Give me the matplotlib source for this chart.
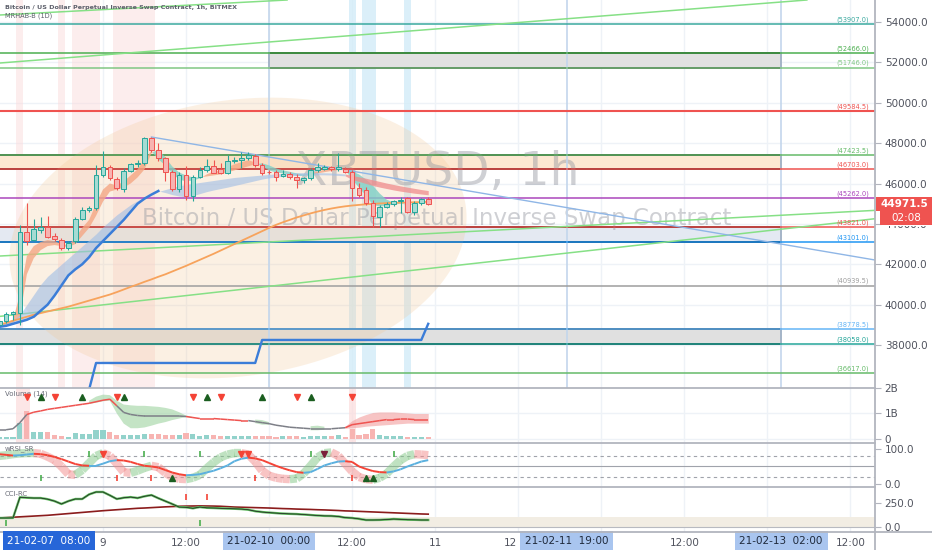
import matplotlib
matplotlib.use("Agg")
import matplotlib.pyplot as plt
import matplotlib.dates as mdates
import matplotlib.transforms as mtrans
from matplotlib.patches import Rectangle
from matplotlib.collections import LineCollection
from matplotlib.lines import Line2D
import numpy as np
import pandas as pd

# ---------------- data ----------------
times = pd.date_range("2021-02-08 09:00", periods=63, freq="h")

opens = [39000, 39165, 39545, 39600, 43620, 43210, 43700, 43870, 43410, 43210,
         42800, 43130, 44230, 44690, 44780, 46430, 46840, 46210, 45720, 46640,
         46970, 47000, 48240, 47660, 47250, 46590, 45720, 46430, 45390, 46340,
         46670, 46870, 46710, 46540, 47090, 47140, 47250, 47370, 46920, 46590,
         46590, 46390, 46460, 46340, 46150, 46260, 46670, 46740, 46810, 46710,
         46710, 46590, 45770, 45680, 45020, 44360, 44860, 44990, 45110, 45270,
         44610, 45020, 45220]
closes = [39165, 39545, 39610, 43620, 43130, 43740, 43870, 43370, 43240, 42800,
          43040, 44230, 44690, 44810, 46430, 46840, 46260, 45770, 46640, 46970,
          47040, 48240, 47660, 47250, 46590, 45720, 46430, 45390, 46340, 46670,
          46870, 46540, 46540, 47090, 47170, 47250, 47420, 46920, 46540, 46560,
          46340, 46480, 46340, 46180, 46260, 46670, 46810, 46810, 46710, 46810,
          46590, 45770, 45440, 45020, 44400, 44860, 44990, 45110, 45190, 44610,
          45020, 45220, 44971.5]
highs = [39330, 39610, 39660, 43950, 45020, 44230, 44330, 44400, 43540, 43290,
         43130, 44330, 44860, 44890, 46920, 47630, 46920, 46340, 46760, 47040,
         47170, 48290, 48320, 47990, 47330, 46670, 46590, 46870, 46430, 46840,
         47200, 47170, 47000, 47420, 47330, 47580, 47580, 47470, 47000, 46670,
         46670, 46670, 46590, 46460, 46340, 46760, 47000, 46920, 46870, 47500,
         46810, 46670, 46010, 45850, 45160, 44940, 45060, 45190, 45350, 45350,
         45110, 45300, 45350]
lows = [38920, 39080, 39250, 39000, 42960, 43130, 43540, 43290, 43130, 42710,
        42710, 43040, 44170, 44610, 44690, 46340, 46180, 45680, 45600, 46590,
        46840, 46920, 47580, 47090, 46100, 45650, 45600, 45190, 45110, 46260,
        46590, 46510, 46480, 46480, 47000, 46760, 47140, 46840, 46430, 46480,
        46100, 46340, 46210, 45770, 46010, 46180, 46590, 46670, 46640, 46640,
        46510, 45110, 45350, 44940, 43870, 43870, 44780, 44890, 44530, 44530,
        44450, 44940, 44940]

# EMA ribbon (fast / slow)
ema_fast = [39000, 39100, 39250, 40500, 42400, 42900, 43100, 43200, 43150, 43000,
            42950, 43300, 43800, 44200, 45000, 45700, 46000, 45900, 46100, 46400,
            46700, 47200, 47600, 47200, 46900, 46500, 46200, 46100, 46150, 46250,
            46450, 46600, 46650, 46800, 46950, 47050, 47150, 47050, 46850, 46650,
            46550, 46500, 46450, 46380, 46380, 46480, 46600, 46680, 46700, 46720,
            46680, 46200, 45800, 45400, 44950, 44850, 44900, 44950, 45000, 44950,
            44950, 45020, 45000]
ema_slow = [38950, 39000, 39100, 39400, 41500, 42300, 42700, 42900, 42950, 42900,
            42850, 43000, 43400, 43800, 44400, 45100, 45600, 45700, 45800, 46000,
            46300, 46700, 47500, 47700, 47300, 46850, 46550, 46400, 46300, 46300,
            46350, 46400, 46450, 46550, 46650, 46750, 46850, 46950, 47000, 46900,
            46750, 46650, 46580, 46500, 46450, 46450, 46500, 46560, 46620, 46660,
            46680, 46600, 46450, 46200, 45900, 45500, 45200, 45050, 45020, 45000,
            44980, 44990, 45000]

# moving-average cloud (blue, then red once price breaks down)
cloud_hi = [39000, 39100, 39250, 39500, 40000, 40500, 41000, 41400, 41700, 42000,
            42300, 42600, 42900, 43200, 43500, 43850, 44150, 44450, 44700, 44950,
            45150, 45300, 45450, 45600, 45700, 45800, 45900, 45950, 46000, 46050,
            46100, 46150, 46200, 46250, 46300, 46330, 46360, 46390, 46420, 46450,
            46480, 46500, 46520, 46530, 46540, 46540, 46540, 46530, 46520, 46500,
            46470, 46400, 46330, 46260, 46180, 46100, 46020, 45950, 45880, 45820,
            45760, 45700, 45650]
cloud_lo = [38900, 38950, 39050, 39150, 39250, 39400, 39700, 40000, 40450, 40950,
            41450, 41750, 42000, 42350, 42800, 43150, 43500, 43850, 44200, 44600,
            45000, 45250, 45450, 45630, 45550, 45450, 45380, 45340, 45400, 45500,
            45600, 45680, 45750, 45820, 45900, 45980, 46060, 46140, 46220, 46280,
            46320, 46360, 46380, 46400, 46410, 46420, 46430, 46430, 46420, 46400,
            46380, 46200, 46100, 46000, 45900, 45820, 45750, 45680, 45620, 45570,
            45520, 45480, 45440]
sma_blue = [38900, 38950, 39050, 39150, 39250, 39400, 39700, 40000, 40450, 40950,
            41450, 41750, 42000, 42350, 42800, 43150, 43500, 43850, 44200, 44600,
            45000, 45250, 45450, 45630]
ema_orange = [39000, 39100, 39200, 39300, 39400, 39500, 39580, 39660, 39740, 39820,
              39900, 40000, 40100, 40200, 40300, 40400, 40500, 40620, 40750, 40880,
              41000, 41130, 41250, 41380, 41500, 41640, 41780, 41920, 42070, 42220,
              42370, 42520, 42680, 42840, 43000, 43160, 43320, 43480, 43640, 43800,
              43950, 44080, 44200, 44320, 44420, 44520, 44610, 44690, 44760, 44820,
              44870, 44910, 44940, 44970, 44990, 45010, 45030, 45040, 45050, 45060,
              45070, 45080, 45090]

# daily step line
step_times = ["2021-02-08 22:00", "2021-02-08 23:00", "2021-02-09 22:00",
              "2021-02-09 23:00", "2021-02-10 22:00", "2021-02-10 23:00"]
step_vals = [35800, 37110, 37110, 38250, 38250, 39050]

# horizontal levels
levels = [53907.0, 52466.0, 51746.0, 49584.5, 47423.5, 46703.0, 45262.0,
          43821.0, 43101.0, 40939.5, 38778.5, 38058.0, 36617.0]
level_colors = ["#3aa99f", "#4caf50", "#81c784", "#ef5350", "#66bb6a", "#ef5350",
                "#ab47bc", "#ef5350", "#2196f3", "#9e9e9e", "#64b5f6", "#26a69a",
                "#66bb6a"]

# rectangles: (start, end, low, high, fill)
boxes = [("2021-02-10 00:00", "2021-02-13 02:00", 51746.0, 52466.0, "#e1e1e1"),
         ("2021-02-07 00:00", "2021-02-13 02:00", 46703.0, 47423.5, "#fde8d2"),
         ("2021-02-07 00:00", "2021-02-13 02:00", 43101.0, 43821.0, "#e4e9f2"),
         ("2021-02-07 00:00", "2021-02-13 02:00", 38058.0, 38778.5, "#e0e0e0")]

# trend lines: (t1, p1, t2, p2)
green_lines = [("2021-02-08 09:07", 54347, "2021-02-10 02:36", 55090),
               ("2021-02-08 09:07", 51969, "2021-02-10 07:22", 53207),
               ("2021-02-08 09:07", 42408, "2021-02-11 03:36", 43597),
               ("2021-02-08 10:51", 39485, "2021-02-11 03:36", 41962)]
blue_trend = ("2021-02-09 07:00", 48303, "2021-02-13 15:34", 42210)

vlines_dates = ["2021-02-10 00:00", "2021-02-11 19:00", "2021-02-13 02:00"]
vline_labels = ["21-02-10  00:00", "21-02-11  19:00", "21-02-13  02:00"]

pink_bands = [(3, 3), (9, 9), (11, 14), (17, 22)]
blue_bands = [(51, 51), (53, 54), (59, 59)]

# volume panel
volume = [0.08, 0.08, 0.08, 0.64, 1.08, 0.28, 0.28, 0.28, 0.16, 0.12,
          0.08, 0.22, 0.20, 0.20, 0.36, 0.36, 0.26, 0.14, 0.14, 0.14,
          0.14, 0.20, 0.20, 0.20, 0.16, 0.14, 0.16, 0.24, 0.20, 0.12,
          0.14, 0.16, 0.10, 0.12, 0.10, 0.10, 0.12, 0.10, 0.10, 0.10,
          0.08, 0.12, 0.10, 0.12, 0.08, 0.10, 0.10, 0.12, 0.10, 0.16,
          0.08, 0.40, 0.14, 0.20, 0.40, 0.16, 0.10, 0.10, 0.12, 0.08,
          0.08, 0.06, 0.06]
vol_ma = [0.36, 0.36, 0.40, 0.64, 0.96, 1.05, 1.10, 1.16, 1.20, 1.24,
          1.28, 1.32, 1.36, 1.40, 1.46, 1.52, 1.56, 1.30, 1.04, 0.96,
          0.92, 0.90, 0.90, 0.90, 0.90, 0.90, 0.90, 0.88, 0.84, 0.80,
          0.80, 0.80, 0.78, 0.76, 0.74, 0.72, 0.72, 0.68, 0.64, 0.60,
          0.54, 0.50, 0.46, 0.44, 0.42, 0.40, 0.40, 0.40, 0.40, 0.42,
          0.44, 0.56, 0.60, 0.64, 0.68, 0.72, 0.76, 0.76, 0.78, 0.78,
          0.76, 0.76, 0.76]
vol_ma_col = "gggg" + "r" * 13 + "g" * 10 + "r" * 9 + "g" * 14 + "r" * 13
nan = np.nan
vol_hi = [nan] * 13 + [1.50, 1.66, 1.74, 1.72, 1.50, 1.35, 1.32, 1.30, 1.30, 1.28,
                       1.26, 1.22, 1.16, 1.05, 0.92, 0.86] + [nan] * 8 + \
         [0.76, 0.74, 0.66] + [nan] * 5 + [0.50, 0.52, 0.48] + [nan] * 2 + \
         [0.50, 0.72, 0.86, 0.96, 1.04, 1.06, 1.06, 1.06, 1.04, 1.02, 1.00, 1.00, 1.00]
vol_lo = [nan] * 13 + [1.38, 1.42, 1.48, 1.50, 1.00, 0.60, 0.42, 0.42, 0.45, 0.52,
                       0.60, 0.66, 0.74, 0.80, 0.86, 0.84] + [nan] * 8 + \
         [0.62, 0.56, 0.56] + [nan] * 5 + [0.34, 0.34, 0.36] + [nan] * 2 + \
         [0.42, 0.44, 0.46, 0.50, 0.52, 0.54, 0.56, 0.58, 0.60, 0.62, 0.62, 0.62, 0.62]
vol_dn_marks = [4, 8, 17, 28, 32, 43, 51]
vol_up_marks = [6, 12, 18, 30, 38, 45]

# wRSI_SR panel
rsi = [85, 83, 81, 82, 84, 86, 85, 82, 77, 71, 64, 57, 53, 52, 52, 58, 65, 68, 67, 63,
       57, 52, 50, 47, 40, 33, 28, 25, 26, 28, 33, 38, 45, 53, 65, 72, 75, 73, 68, 60,
       52, 45, 39, 34, 32, 34, 43, 53, 59, 64, 65, 63, 50, 43, 37, 34, 33, 36, 42, 50,
       57, 64, 68]
rsi_fast = [80, 82, 85, 87, 88, 88, 86, 78, 68, 50, 28, 26, 40, 60, 80, 88, 80, 58, 34, 32,
            38, 46, 52, 48, 32, 20, 15, 14, 18, 26, 45, 62, 76, 84, 88, 88, 84, 64, 38, 24,
            18, 15, 14, 16, 30, 52, 76, 88, 90, 80, 58, 36, 20, 14, 12, 18, 30, 50, 68, 80,
            85, 84, 82]
rsi_green_top = [13, 21, 29, 45, 57]
rsi_green_bot = [6]
rsi_red_bot = [17, 22, 37, 51]
rsi_red_tri = [15, 35, 36]
rsi_dark_tri = [47]
rsi_up_tri = [25, 53, 54]

# CCI-RC panel
cci = [94, 94, 95, 310, 305, 302, 302, 290, 270, 240, 270, 292, 292, 340, 365, 365, 330,
       292, 305, 312, 302, 320, 333, 300, 270, 240, 208, 205, 195, 208, 200, 198, 195,
       192, 190, 187, 180, 165, 156, 150, 145, 140, 137, 135, 130, 125, 120, 116, 115,
       110, 98, 94, 85, 73, 73, 74, 78, 83, 80, 76, 75, 73, 73]
cci_sig = [94, 98, 102, 106, 110, 114, 118, 122, 128, 134, 140, 146, 152, 158, 164, 170,
           175, 180, 185, 190, 195, 198, 202, 206, 210, 213, 216, 218, 219, 220, 219, 218,
           216, 212, 208, 206, 204, 202, 200, 198, 195, 192, 190, 187, 185, 183, 180, 178,
           175, 172, 168, 166, 163, 160, 157, 154, 151, 148, 145, 142, 139, 136, 134]
cci_red_marks = [27, 30]
cci_green_marks = [1, 29]

# time-axis labels every 12 h from Feb 9; "" where a drawing label covers the tick
tick_labels = ["9", "12:00", "", "12:00", "11", "12", "", "12:00", "", "12:00"]
countdown = "02:08"

# ---------------- figure ----------------
W, H = 932, 550
fig = plt.figure(figsize=(W / 100, H / 100), dpi=100)
PX = 875


def ax_px(y0, y1):
    a = fig.add_axes([0, 1 - y1 / H, PX / W, (y1 - y0) / H])
    for s in a.spines.values():
        s.set_visible(False)
    return a


ax = ax_px(0, 388)
axv = ax_px(388, 443)
axr = ax_px(443, 487)
axc = ax_px(487, 532)

UP, DN = "#26a69a", "#ef5350"
GRID = "#eef2f7"
TXT = "#50535e"
t = mdates.date2num(times)
hr = 1 / 24
idx = np.arange(len(t))
t9 = mdates.date2num(pd.Timestamp("2021-02-09"))
xl = (t9 - 14.88 * hr, t9 + 111.56 * hr)
grid_x = t9 + np.arange(10) * 12 * hr

for a in (ax, axv, axr, axc):
    a.set_xlim(*xl)
    for gx in grid_x:
        a.axvline(gx, color=GRID, lw=1, zorder=0.5)
    a.yaxis.tick_right()
    a.tick_params(axis="y", length=4, width=0.8, color="#b2b5be", labelsize=7.5,
                  labelcolor=TXT, pad=3)
    a.tick_params(axis="x", length=0, labelbottom=False)

# ---- main price panel ----
YLO, YHI = 35870, 55090
ax.set_ylim(YLO, YHI)
ppx = (YHI - YLO) / 388
yt = np.arange(38000, 54001, 2000)
ax.set_yticks(yt)
ax.set_yticklabels([f"{v:.1f}" for v in yt])
for v in yt:
    ax.axhline(v, color=GRID, lw=1, zorder=0.5)

for i0, i1 in pink_bands:
    ax.axvspan(t[i0] - 0.5 * hr, t[i1] + 0.5 * hr, color="#fbdcdc", alpha=0.5, lw=0, zorder=1.2)
for i0, i1 in blue_bands:
    ax.axvspan(t[i0] - 0.5 * hr, t[i1] + 0.5 * hr, color="#d3ecf8", alpha=0.8, lw=0, zorder=1.2)

for s, e, lo, hi, fc in boxes:
    ts, te = mdates.date2num(pd.Timestamp(s)), mdates.date2num(pd.Timestamp(e))
    ax.add_patch(Rectangle((ts, lo), te - ts, hi - lo, facecolor=fc, edgecolor="black",
                           lw=1.3, zorder=1.5))

# big translucent ellipse drawing
phi = np.linspace(0, 2 * np.pi, 200)
cx, cy, ea, eb, ang = 238, 238, 230, 138, np.deg2rad(8)
ex = cx + ea * np.cos(phi) * np.cos(ang) - eb * np.sin(phi) * np.sin(ang)
ey = cy - (ea * np.cos(phi) * np.sin(ang) + eb * np.sin(phi) * np.cos(ang))
ax.fill(ex / PX, 1 - ey / 388, transform=ax.transAxes, color="#f3c795", alpha=0.26, lw=0, zorder=2)

# watermark
ax.text(437 / PX, 1 - 173 / 388, "XBTUSD, 1h", transform=ax.transAxes, ha="center",
        va="center", fontsize=34, color="#9598a1", alpha=0.45, zorder=2.2)
ax.text(437 / PX, 1 - 218 / 388, "Bitcoin / US Dollar Perpetual Inverse Swap Contract",
        transform=ax.transAxes, ha="center", va="center", fontsize=16.5, color="#9598a1",
        alpha=0.45, zorder=2.2)

bl = mtrans.blended_transform_factory(ax.transAxes, ax.transData)
for lv, lc in zip(levels, level_colors):
    ax.axhline(lv, color=lc, lw=1.5 if lv == 49584.5 else 1.1, zorder=2.5)
    ax.text(0.993, lv + 60, f"({lv:.1f})", transform=bl, ha="right", va="bottom",
            fontsize=4.8, color=lc, zorder=3)

for vd in vlines_dates:
    ax.axvline(mdates.date2num(pd.Timestamp(vd)), color="#c3d6ec", lw=1.2, zorder=2.4)

for t1, p1, t2, p2 in green_lines:
    ax.axline((mdates.date2num(pd.Timestamp(t1)), p1), (mdates.date2num(pd.Timestamp(t2)), p2),
              color="#86e086", lw=1.1, zorder=2.6)
bt1, bp1, bt2, bp2 = blue_trend
ax.plot([mdates.date2num(pd.Timestamp(bt1)), mdates.date2num(pd.Timestamp(bt2))], [bp1, bp2],
        color="#8fb6e6", lw=1.0, zorder=2.6)

ef, es = np.array(ema_fast), np.array(ema_slow)
ax.fill_between(t, ef, es, where=ef >= es, interpolate=True, color="#f4a784", alpha=0.8,
                lw=0, zorder=3)
ax.fill_between(t, ef, es, where=ef < es, interpolate=True, color="#7fd0c6", alpha=0.8,
                lw=0, zorder=3)
ch, cl = np.array(cloud_hi), np.array(cloud_lo)
ax.fill_between(t, ch, cl, where=idx <= 50, color="#9fbde6", alpha=0.6, lw=0, zorder=3.1)
ax.fill_between(t, ch, cl, where=idx >= 50, color="#f08c8c", alpha=0.75, lw=0, zorder=3.1)
ax.plot(t[:len(sma_blue)], sma_blue, color="#3b7dd8", lw=1.8, zorder=3.5)
ax.plot(t, ema_orange, color="#f7a35c", lw=1.3, zorder=3.4)
ax.plot(mdates.date2num(pd.to_datetime(step_times)), step_vals, color="#3b7dd8", lw=1.7,
        zorder=3.5)

hw = 0.34 * hr
for ti, o, h, l, c in zip(t, opens, highs, lows, closes):
    up = c >= o
    col = UP if up else DN
    ax.vlines(ti, l, h, color=col, lw=0.8, zorder=5)
    ax.add_patch(Rectangle((ti - hw, min(o, c)), 2 * hw, max(abs(c - o), 30),
                           facecolor="#a6dbd3" if up else "#f7b3b1", edgecolor=col,
                           lw=0.7, zorder=6))

# last price and countdown labels on the price scale
last = closes[-1]
ax.add_patch(Rectangle((876 / PX, last - 7 * ppx), 56 / PX, 14 * ppx, transform=bl,
                       facecolor=DN, edgecolor="none", clip_on=False, zorder=19))
ax.text(904 / PX, last, f"{last:.1f}", transform=bl, ha="center", va="center",
        fontsize=7.5, color="white", fontweight="bold", clip_on=False, zorder=20)
ax.add_patch(Rectangle((880 / PX, last - 21 * ppx), 52 / PX, 14 * ppx, transform=bl,
                       facecolor=DN, edgecolor="none", clip_on=False, zorder=19))
ax.text(906 / PX, last - 14 * ppx, countdown, transform=bl, ha="center", va="center",
        fontsize=7.5, color="white", clip_on=False, zorder=20)

# the 44000.0 scale label sits under the countdown box: show only its lower sliver
fig.canvas.draw()
for lab in ax.get_yticklabels():
    if lab.get_text() == "44000.0":
        clip = Rectangle((876, 0), 56, H - 225.5, transform=None)
        lab.set_clip_path(clip)
        lab.set_clip_on(True)

fig.text(5 / W, 1 - 7 / H, "Bitcoin / US Dollar Perpetual Inverse Swap Contract, 1h, BITMEX",
         fontsize=4.6, color="#5d606b", fontweight="bold", va="center")
fig.text(5 / W, 1 - 15.5 / H, "MRHAB-B (1D)", fontsize=4.8, color="#5d606b", va="center")

# ---- volume panel ----
axv.set_ylim(-0.16, 2.0)
axv.set_yticks([0, 1, 2])
axv.set_yticklabels(["0", "1B", "2B"])
for gy in (0, 1):
    axv.axhline(gy, color=GRID, lw=1, zorder=0.5)
for i0, i1 in [(3, 4), (51, 51)]:
    axv.axvspan(t[i0] - 0.5 * hr, t[i1] + 0.5 * hr, color="#fbdcdc", alpha=0.7, lw=0, zorder=1)
vcols = ["#92d2cb" if c >= o else "#f7b4b2" for o, c in zip(opens, closes)]
axv.bar(t, volume, width=0.74 * hr, color=vcols, zorder=2)
vh, vlw = np.array(vol_hi), np.array(vol_lo)
ok = np.isfinite(vh)
axv.fill_between(t, np.nan_to_num(vh), np.nan_to_num(vlw), where=ok & (idx < 50),
                 color="#a5d6a7", alpha=0.65, lw=0, zorder=2.5)
axv.fill_between(t, np.nan_to_num(vh), np.nan_to_num(vlw), where=ok & (idx >= 50),
                 color="#f4a5a5", alpha=0.65, lw=0, zorder=2.5)
seg = [[(t[i], vol_ma[i]), (t[i + 1], vol_ma[i + 1])] for i in range(len(t) - 1)]
segc = ["#ef5350" if vol_ma_col[i] == "r" else "#7d7f87" for i in range(len(t) - 1)]
axv.add_collection(LineCollection(seg, colors=segc, lw=1.1, zorder=3))
axv.plot(t[vol_dn_marks], [1.64] * len(vol_dn_marks), "v", color="#f44336", ms=4, zorder=4)
axv.plot(t[vol_up_marks], [1.64] * len(vol_up_marks), "^", color="#1b5e20", ms=4, zorder=4)
axv.text(5 / PX, 0.9, "Volume (14)", transform=axv.transAxes, fontsize=5, color="#6a6d78",
         va="center")

# ---- wRSI panel ----
axr.set_ylim(-8.3, 116.7)
axr.set_yticks([0, 100])
axr.set_yticklabels(["0.0", "100.0"])
axr.axhline(80, color="#a0a3ab", lw=0.8, ls=(0, (3, 3)), zorder=1)
axr.axhline(20, color="#a0a3ab", lw=0.8, ls=(0, (3, 3)), zorder=1)
axr.axhline(50, color="#a0a3ab", lw=0.8, zorder=1)
fseg = [[(t[i], rsi_fast[i]), (t[i + 1], rsi_fast[i + 1])] for i in range(len(t) - 1)]
fcol = ["#81c784" if rsi_fast[i + 1] >= rsi_fast[i] else "#f28b8b" for i in range(len(t) - 1)]
axr.add_collection(LineCollection(fseg, colors=fcol, lw=6, alpha=0.5, zorder=2,
                                  capstyle="butt"))
rseg = [[(t[i], rsi[i]), (t[i + 1], rsi[i + 1])] for i in range(len(t) - 1)]
rcol = ["#5ab0df" if rsi[i + 1] >= rsi[i] else "#f44336" for i in range(len(t) - 1)]
axr.add_collection(LineCollection(rseg, colors=rcol, lw=1.4, zorder=3))
axr.plot(t[rsi_green_top], [86] * len(rsi_green_top), "|", color="#4caf50", ms=4, mew=1.2)
axr.plot(t[rsi_green_bot], [16] * len(rsi_green_bot), "|", color="#4caf50", ms=4, mew=1.2)
axr.plot(t[rsi_red_bot], [16] * len(rsi_red_bot), "|", color="#f44336", ms=4, mew=1.2)
axr.plot(t[rsi_red_tri], [86] * len(rsi_red_tri), "v", color="#f44336", ms=4, zorder=4)
axr.plot(t[rsi_dark_tri], [86] * len(rsi_dark_tri), "v", color="#7b1f3a", ms=4, zorder=4)
axr.plot(t[rsi_up_tri], [16] * len(rsi_up_tri), "^", color="#1b5e20", ms=4, zorder=4)
axr.text(5 / PX, 0.87, "wRSI_SR", transform=axr.transAxes, fontsize=5, color="#6a6d78",
         va="center")

# ---- CCI panel ----
axc.set_ylim(-52, 417)
axc.set_yticks([0, 250])
axc.set_yticklabels(["0.0", "250.0"])
axc.axhspan(0, 100, color="#f2ede3", lw=0, zorder=0.8)
axc.axhline(0, color="#b8bac0", lw=0.8, zorder=1)
axc.plot(t, cci, color="#5cb85c", lw=1.7, zorder=3)
axc.plot(t, cci, color="#1a1a1a", lw=0.5, zorder=3.1)
axc.plot(t, cci_sig, color="#8b1c1c", lw=1.2, zorder=2.5)
axc.plot(t[cci_red_marks], [312] * len(cci_red_marks), "|", color="#f44336", ms=4, mew=1.2)
axc.plot(t[cci_green_marks], [42] * len(cci_green_marks), "|", color="#4caf50", ms=4, mew=1.2)
axc.text(5 / PX, 0.84, "CCI-RC", transform=axc.transAxes, fontsize=5, color="#6a6d78",
         va="center")

axc.set_xticks(grid_x)
axc.set_xticklabels(tick_labels)
axc.tick_params(axis="x", labelbottom=True, labelsize=7.5, labelcolor=TXT, pad=4)
# the 12:00 label of Feb 11 is cut by the drawing label; only "12" shows left of it
lab12 = axc.get_xticklabels()[5]
lab12.set_ha("right")
lab12.set_transform(lab12.get_transform() + mtrans.ScaledTranslation(-0.5 / 72, 0,
                                                                   fig.dpi_scale_trans))

bx = mtrans.blended_transform_factory(axc.transData, axc.transAxes)
for vd, lab in zip(vlines_dates, vline_labels):
    axc.text(mdates.date2num(pd.Timestamp(vd)), -0.2, lab, transform=bx, ha="center",
             va="center", fontsize=7.5, color="#1f2a3c", clip_on=False, zorder=20,
             bbox=dict(boxstyle="square,pad=0.45", facecolor="#a9c5ef", edgecolor="none"))
fig.text(49 / W, 1 - 541 / H, "21-02-07  08:00", ha="center", va="center", fontsize=7.5,
         color="white", zorder=20,
         bbox=dict(boxstyle="square,pad=0.45", facecolor="#2766d8", edgecolor="none"))

# panel separators and price-scale border
SEP = "#b2b5be"
for yy in (388, 443, 487):
    fig.add_artist(Line2D([0, PX / W], [1 - yy / H] * 2, color=SEP, lw=1.3))
fig.add_artist(Line2D([0, 1], [1 - 532 / H] * 2, color=SEP, lw=1.3))
fig.add_artist(Line2D([PX / W] * 2, [0, 1], color=SEP, lw=1.3))

fig.savefig("out.png", dpi=100)
